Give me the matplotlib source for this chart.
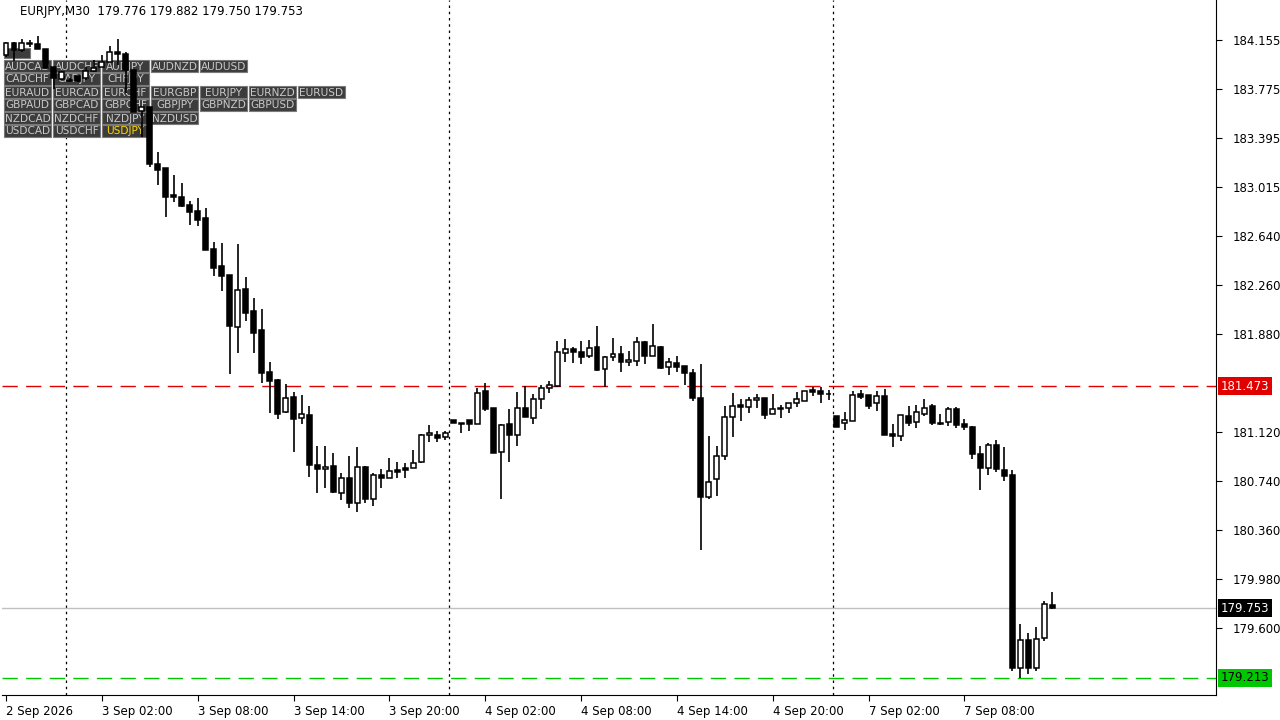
import matplotlib
matplotlib.use("Agg")
import matplotlib.pyplot as plt
from matplotlib.patches import Rectangle
import numpy as np

# EURJPY M30 candles (oldest first)
opens = [184.039, 184.132, 184.078, 184.132, 184.124, 184.085, 183.946, 183.853, 183.845, 183.876,
         183.861, 183.915, 183.946, 183.985, 184.062, 184.047, 183.923, 183.605, 183.636, 183.195,
         183.164, 182.954, 182.939, 182.877, 182.830, 182.776, 182.536, 182.404, 182.335, 181.932,
         182.226, 182.056, 181.909, 181.583, 181.521, 181.273, 181.389, 181.227, 181.250, 180.863,
         180.832, 180.855, 180.646, 180.762, 180.568, 180.847, 180.599, 180.785, 180.762, 180.824,
         180.839, 180.839, 180.886, 181.095, 181.095, 181.080, 181.211, 181.188, 181.211, 181.180,
         181.436, 181.304, 180.963, 181.180, 181.095, 181.304, 181.227, 181.374, 181.459, 181.475,
         181.730, 181.761, 181.738, 181.707, 181.777, 181.606, 181.699, 181.723, 181.661, 181.668,
         181.816, 181.707, 181.777, 181.622, 181.653, 181.630, 181.575, 181.382, 180.615, 180.754,
         180.932, 181.235, 181.328, 181.312, 181.366, 181.382, 181.258, 181.304, 181.304, 181.343,
         181.358, 181.444, 181.436, 181.413, 181.242, 181.188, 181.204, 181.413, 181.405, 181.343,
         181.397, 181.103, 181.087, 181.242, 181.196, 181.258, 181.320, 181.188, 181.196, 181.296,
         181.180, 181.157, 180.948, 180.839, 181.018, 180.824, 180.785, 179.290, 179.507, 179.290,
         179.523, 179.776]
highs = [184.140, 184.140, 184.163, 184.155, 184.186, 184.085, 183.946, 183.915, 183.861, 183.876,
         183.946, 184.000, 184.039, 184.109, 184.163, 184.062, 183.923, 183.636, 183.636, 183.287,
         183.164, 183.109, 183.047, 182.908, 182.931, 182.854, 182.590, 182.582, 182.335, 182.575,
         182.319, 182.156, 182.071, 181.661, 181.529, 181.490, 181.428, 181.405, 181.320, 181.010,
         181.010, 180.956, 180.801, 180.932, 181.002, 180.855, 180.801, 180.832, 180.917, 180.886,
         180.878, 180.979, 181.103, 181.173, 181.126, 181.126, 181.211, 181.188, 181.211, 181.459,
         181.498, 181.304, 181.180, 181.296, 181.428, 181.475, 181.413, 181.482, 181.513, 181.823,
         181.839, 181.777, 181.823, 181.831, 181.939, 181.707, 181.847, 181.785, 181.746, 181.854,
         181.823, 181.955, 181.785, 181.692, 181.707, 181.630, 181.606, 181.645, 181.087, 181.010,
         181.320, 181.420, 181.374, 181.389, 181.413, 181.382, 181.413, 181.328, 181.343, 181.428,
         181.436, 181.467, 181.467, 181.444, 181.242, 181.273, 181.436, 181.444, 181.405, 181.436,
         181.451, 181.180, 181.250, 181.320, 181.328, 181.374, 181.335, 181.258, 181.312, 181.312,
         181.219, 181.165, 181.010, 181.033, 181.056, 181.002, 180.824, 179.631, 179.561, 179.608,
         179.809, 179.882]
lows = [184.023, 183.990, 184.062, 184.101, 184.085, 183.938, 183.776, 183.845, 183.830, 183.830,
        183.845, 183.907, 183.946, 183.985, 183.961, 183.745, 183.597, 183.404, 183.171, 183.032,
        182.784, 182.900, 182.861, 182.722, 182.714, 182.528, 182.327, 182.211, 181.568, 181.730,
        181.978, 181.730, 181.498, 181.266, 181.219, 181.266, 180.963, 181.180, 180.770, 180.646,
        180.685, 180.646, 180.592, 180.530, 180.499, 180.568, 180.545, 180.685, 180.762, 180.762,
        180.762, 180.839, 180.878, 181.041, 181.041, 181.056, 181.188, 181.111, 181.126, 181.180,
        181.281, 180.956, 180.599, 180.886, 181.010, 181.235, 181.180, 181.296, 181.420, 181.467,
        181.661, 181.653, 181.645, 181.692, 181.591, 181.467, 181.668, 181.583, 181.630, 181.630,
        181.645, 181.707, 181.606, 181.560, 181.583, 181.482, 181.358, 180.204, 180.599, 180.623,
        180.901, 181.080, 181.204, 181.266, 181.304, 181.219, 181.258, 181.227, 181.266, 181.312,
        181.358, 181.397, 181.343, 181.366, 181.157, 181.134, 181.204, 181.374, 181.296, 181.281,
        181.095, 181.002, 181.049, 181.165, 181.149, 181.242, 181.173, 181.173, 181.165, 181.149,
        181.134, 180.909, 180.669, 180.785, 180.808, 180.739, 179.267, 179.213, 179.244, 179.267,
        179.499, 179.750]
closes = [184.132, 184.078, 184.132, 184.124, 184.085, 183.938, 183.861, 183.907, 183.841, 183.838,
          183.915, 183.938, 183.985, 184.062, 184.047, 183.923, 183.597, 183.636, 183.195, 183.148,
          182.939, 182.939, 182.869, 182.823, 182.761, 182.528, 182.389, 182.327, 181.940, 182.218,
          182.040, 181.885, 181.575, 181.513, 181.258, 181.382, 181.219, 181.258, 180.863, 180.832,
          180.847, 180.654, 180.762, 180.568, 180.847, 180.599, 180.785, 180.762, 180.816, 180.808,
          180.824, 180.878, 181.095, 181.111, 181.072, 181.111, 181.188, 181.184, 181.180, 181.420,
          181.296, 180.956, 181.172, 181.095, 181.304, 181.235, 181.374, 181.459, 181.482, 181.738,
          181.761, 181.738, 181.699, 181.769, 181.599, 181.699, 181.723, 181.661, 181.676, 181.816,
          181.707, 181.785, 181.614, 181.661, 181.622, 181.575, 181.382, 180.615, 180.731, 180.932,
          181.235, 181.320, 181.312, 181.366, 181.382, 181.250, 181.296, 181.296, 181.343, 181.374,
          181.436, 181.428, 181.413, 181.409, 181.157, 181.211, 181.405, 181.389, 181.320, 181.397,
          181.095, 181.087, 181.250, 181.188, 181.273, 181.304, 181.188, 181.184, 181.296, 181.173,
          181.157, 180.948, 180.839, 181.018, 180.832, 180.777, 179.290, 179.507, 179.290, 179.515,
          179.786, 179.753]

price_ticks = [184.155, 183.775, 183.395, 183.015, 182.640, 182.260, 181.880, 181.120,
               180.740, 180.360, 179.980, 179.600]
time_idx = [0, 12, 24, 36, 48, 60, 72, 84, 96, 108, 120]
time_labels = ["2 Sep 2026", "3 Sep 02:00", "3 Sep 08:00", "3 Sep 14:00", "3 Sep 20:00",
               "4 Sep 02:00", "4 Sep 08:00", "4 Sep 14:00", "4 Sep 20:00", "7 Sep 02:00",
               "7 Sep 08:00"]
day_breaks = [8, 56, 104]
level_high = 181.473
level_low = 179.213
last_price = 179.753

symbol_rows = [
    ["AUDCAD", "AUDCHF", "AUDJPY", "AUDNZD", "AUDUSD"],
    ["CADCHF", "CADJPY", "CHFJPY"],
    ["EURAUD", "EURCAD", "EURCHF", "EURGBP", "EURJPY", "EURNZD", "EURUSD"],
    ["GBPAUD", "GBPCAD", "GBPCHF", "GBPJPY", "GBPNZD", "GBPUSD"],
    ["NZDCAD", "NZDCHF", "NZDJPY", "NZDUSD"],
    ["USDCAD", "USDCHF", "USDJPY"],
]

W, H = 1280, 720
AX_L, AX_R, AX_B = 2, 1216, 695
fig = plt.figure(figsize=(W / 100, H / 100), dpi=100)
ax = fig.add_axes([AX_L / W, 1 - AX_B / H, (AX_R - AX_L) / W, AX_B / H])


def px(xp, yp):
    # screen pixel (from top-left) -> axes fraction
    return (xp - AX_L) / (AX_R - AX_L), 1 - yp / AX_B


o, h, l, c = map(np.array, (opens, highs, lows, closes))
x = np.arange(len(o))
ax.vlines(x, l, h, color="black", lw=1.2, zorder=3)
up = c >= o
bottom = np.minimum(o, c)
height = np.maximum(np.abs(c - o), 0.004)
ax.bar(x[up], height[up], bottom=bottom[up], width=0.62, color="white",
       edgecolor="black", lw=1.1, zorder=4)
ax.bar(x[~up], height[~up], bottom=bottom[~up], width=0.62, color="black",
       edgecolor="black", lw=1.1, zorder=4)

for d in day_breaks:
    ax.axvline(d - 0.5, color="black", lw=0.9, ls=(0, (2, 3)), zorder=1)
ax.axhline(level_high, color="#e00000", lw=1, ls=(0, (11, 6)), zorder=2)
ax.axhline(level_low, color="#00c800", lw=1, ls=(0, (11, 6)), zorder=2)
ax.axhline(last_price, color="#c0c0c0", lw=1, zorder=1)

ax.set_xlim(-0.5, 151.5)
ax.set_ylim(179.081, 184.465)
ax.yaxis.tick_right()
ax.set_yticks(price_ticks)
ax.set_yticklabels([f"{p:.3f}" for p in price_ticks], fontsize=8.5)
ax.set_xticks(time_idx)
ax.set_xticklabels(time_labels, fontsize=8.5, ha="left")
ax.tick_params(axis="y", length=4, pad=8)
ax.tick_params(axis="x", length=4, pad=3)
for side in ["left", "top"]:
    ax.spines[side].set_visible(False)

# price tags on the right axis
for val, fc, tc in [(level_high, "#e00000", "white"), (last_price, "black", "white"),
                    (level_low, "#00c800", "black")]:
    ax.text(1.004, val, f"{val:.3f}", transform=ax.get_yaxis_transform(), fontsize=8.5,
            color=tc, va="center", ha="left",
            bbox=dict(boxstyle="square,pad=0.2", fc=fc, ec="none"), zorder=10, clip_on=False)

fig.text(20 / W, 1 - 12 / H, "EURJPY,M30  179.776 179.882 179.750 179.753",
         fontsize=8.5, va="center", ha="left")

# symbol switcher overlay, drawn under the candles like the terminal does
bw, bh = 47, 12
small = Rectangle(px(4, 58), 26 / (AX_R - AX_L), 10 / AX_B, transform=ax.transAxes,
                  fc="#3c3c3c", ec="#7a7a7a", lw=0.8, zorder=2)
ax.add_patch(small)
for r, row in enumerate(symbol_rows):
    for k, name in enumerate(row):
        x0, y0 = 4 + 49 * k, 60 + 13 * r
        rect = Rectangle(px(x0, y0 + bh), bw / (AX_R - AX_L), bh / AX_B,
                         transform=ax.transAxes, fc="#3c3c3c", ec="#7a7a7a", lw=0.8, zorder=2)
        ax.add_patch(rect)
        col = "#ffd700" if name == "USDJPY" else "#c8c8c8"
        t = ax.text(*px(x0 + bw / 2, y0 + bh / 2 + 0.5), name, transform=ax.transAxes,
                    fontsize=7.6, color=col, va="center", ha="center", zorder=2.5)
        t.set_clip_path(rect)

fig.savefig("out.png", dpi=100)
